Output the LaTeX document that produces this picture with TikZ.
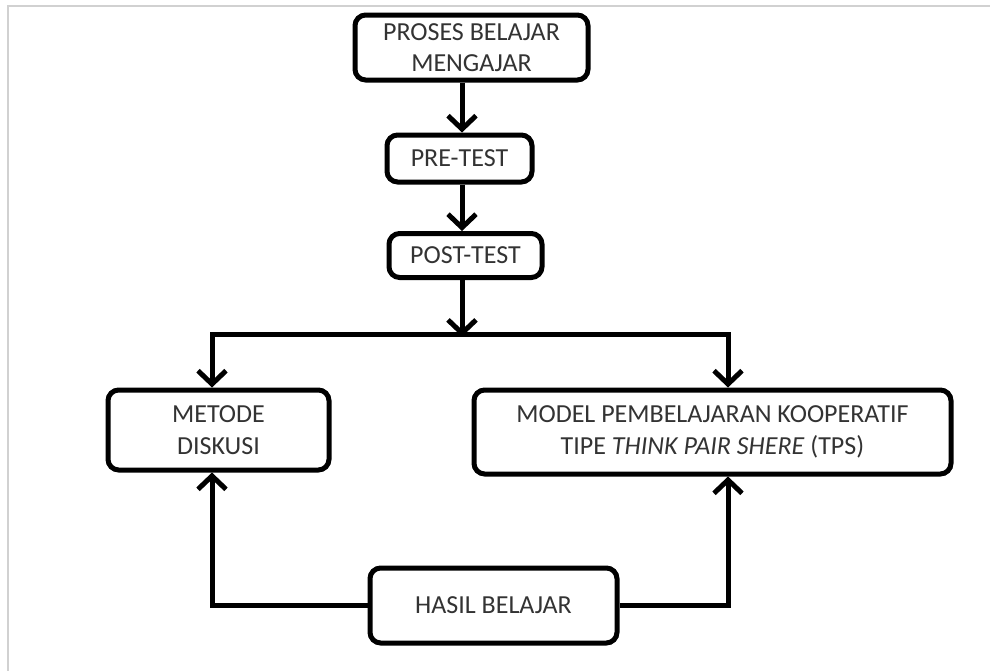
\documentclass[tikz,border=0pt]{standalone}
\usepackage{fontspec}
\setmainfont{Carlito}
\usetikzlibrary{arrows.meta}
\tikzset{
  box/.style={draw=black, line width=3.75pt, rounded corners=8pt, fill=white,
    align=center, inner sep=0pt, text=black!80,
    font=\fontsize{19.5}{23.5}\selectfont},
  arr/.style={line width=3.75pt, -{Straight Barb[length=10pt,width=21pt,line width=3.75pt]}},
  arr2/.style={line width=3.75pt, {Straight Barb[length=10pt,width=21pt,line width=3.75pt]}-{Straight Barb[length=10pt,width=21pt,line width=3.75pt]}},
  frame/.style={draw=black!18, line width=1.5pt}
}
\begin{document}
\begin{tikzpicture}[x=0.75pt, y=-0.75pt]
\useasboundingbox (0,0) rectangle (990,671);
\fill[white] (0,0) rectangle (990,671);
\draw[frame] (8,671) -- (8,6) -- (990,6);

\node[box, minimum width=233*0.75pt, minimum height=65*0.75pt] (pbm) at (471.5,47.5) {PROSES BELAJAR\\MENGAJAR};
\node[box, minimum width=145*0.75pt, minimum height=47*0.75pt] (pre) at (459.5,158.5) {PRE-TEST};
\node[box, minimum width=153*0.75pt, minimum height=44*0.75pt] (post) at (465.5,255.5) {POST-TEST};
\node[box, minimum width=221*0.75pt, minimum height=80*0.75pt] (md) at (218.5,430) {METODE\\DISKUSI};
\node[box, minimum width=477*0.75pt, minimum height=84*0.75pt] (tps) at (712.5,432) {MODEL PEMBELAJARAN KOOPERATIF\\TIPE \textit{THINK PAIR SHERE} (TPS)};
\node[box, minimum width=247*0.75pt, minimum height=75*0.75pt] (hb) at (493.5,605.5) {HASIL BELAJAR};

\coordinate (cx) at (462,0);
\coordinate (lx) at (212,0);
\coordinate (rx) at (728,0);
\coordinate (j) at (462,334);
\coordinate (rj) at (728,334);

\draw[arr] (pbm.south -| cx) -- (pre.north -| cx);
\draw[arr] (pre.south -| cx) -- (post.north -| cx);
\draw[arr] (post.south -| cx) -- ([yshift=-2pt]j);
\draw[arr2] (md.north -| lx) |- (rj) -- (tps.north -| rx);
\draw[arr] (hb.west) -| (md.south -| lx);
\draw[arr] (hb.east) -| (tps.south -| rx);
\end{tikzpicture}
\end{document}
